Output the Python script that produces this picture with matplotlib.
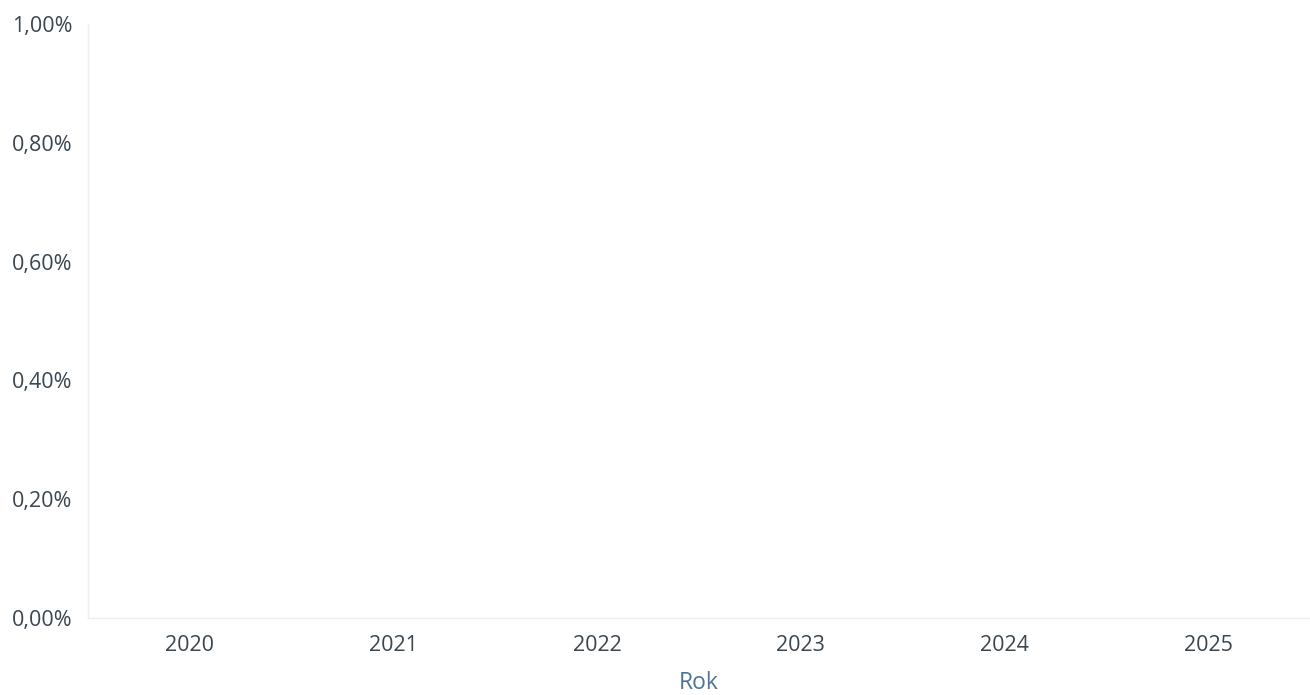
import matplotlib.pyplot as plt
from matplotlib.ticker import FuncFormatter

# data: the reference shows no marks, only the empty axes
years = ["2020", "2021", "2022", "2023", "2024", "2025"]
values = [0.0, 0.0, 0.0, 0.0, 0.0, 0.0]
y_ticks = [0.0, 0.2, 0.4, 0.6, 0.8, 1.0]

plt.rcParams["font.family"] = ["Open Sans", "DejaVu Sans"]

fig = plt.figure(figsize=(13.1, 6.95), dpi=100)
ax = fig.add_axes([88 / 1310, 77 / 695, 1222 / 1310, 594 / 695])

ax.bar(range(len(years)), values, width=0.6, color="#4f7396")

ax.set_xlim(-0.5, len(years) - 0.5)
ax.set_ylim(0, 1.0)
ax.set_xticks(range(len(years)))
ax.set_xticklabels(years)
ax.set_yticks(y_ticks)
ax.yaxis.set_major_formatter(
    FuncFormatter(lambda v, _: f"{v:.2f}%".replace(".", ","))
)

ax.tick_params(axis="both", length=0, labelsize=15.5, colors="#3a4650")
ax.tick_params(axis="x", pad=12)
ax.tick_params(axis="y", pad=11)
ax.set_xlabel("Rok", fontsize=16.5, color="#4f7396", labelpad=11)

for side in ["top", "right"]:
    ax.spines[side].set_visible(False)
for side in ["left", "bottom"]:
    ax.spines[side].set_color("#eceef2")
    ax.spines[side].set_linewidth(1)

fig.savefig("out.png", dpi=100)
